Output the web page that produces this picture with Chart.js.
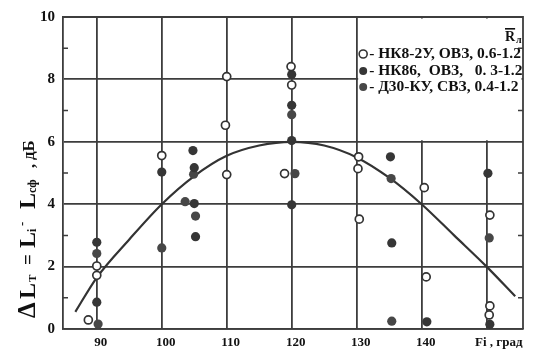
<!DOCTYPE html>
<html><head><meta charset="utf-8">
<script src="https://cdn.jsdelivr.net/npm/chart.js@4"></script>
<style>html,body{margin:0;padding:0;background:#fff}</style>
</head><body>
<div style="width:549px;height:364px"><canvas id="c" width="549" height="364"></canvas></div>
<script>
// ---- data ----
const xTicks = [90, 100, 110, 120, 130, 140, 150];
const xTickLabels = ['90', '100', '110', '120', '130', '140', '     Fi , град'];
const yTicks = [0, 2, 4, 6, 8, 10];
const yMinorTicks = [1, 3, 5, 7, 9];
const seriesNames = ['НК8-2У, ОВЗ, 0.6-1.2', 'НК86,  ОВЗ,   0. 3-1.2', 'Д30-КУ, СВЗ, 0.4-1.2'];
const legendHeader = 'R';
const legendHeaderSub = 'л';

// НК8-2У (hollow)
const nk82uX = [88.7, 90, 90, 100, 110, 109.8, 110, 119.9, 120, 118.9, 130.3, 130.2, 130.4, 140.4, 140.7, 150.5, 150.5, 150.4];
const nk82uY = [0.29, 2.02, 1.72, 5.56, 8.09, 6.53, 4.95, 8.41, 7.82, 4.98, 5.52, 5.14, 3.52, 4.53, 1.67, 3.65, 0.74, 0.45];
// НК86 (filled)
const nk86X = [90, 90, 100, 104.8, 105, 105, 105.2, 120, 120, 120, 120, 135.2, 135.4, 140.8, 150.2, 150.5];
const nk86Y = [2.78, 0.86, 5.03, 5.72, 5.17, 4.02, 2.96, 8.16, 7.17, 6.04, 3.98, 5.52, 2.76, 0.23, 4.99, 0.15];
// Д30-КУ (filled)
const d30X = [90, 90.2, 100, 104.9, 103.6, 105.2, 120, 120.5, 135.3, 135.4, 150.4];
const d30Y = [2.42, 0.16, 2.6, 4.96, 4.08, 3.62, 6.87, 4.98, 4.82, 0.25, 2.92];
// fitted curve
const curveX = [86.7, 90, 95, 100, 105, 110, 115, 120, 125, 130, 135, 140, 145, 150, 154.4];
const curveY = [0.55, 1.65, 2.87, 4.0, 4.9, 5.55, 5.88, 6.0, 5.88, 5.5, 4.85, 4.0, 3.0, 2.0, 1.05];

const pts = (xs, ys) => xs.map((v, i) => ({x: v, y: ys[i]}));
const GRID = '#3d3d3d';
const FONT = '"Liberation Serif", "DejaVu Serif", serif';
const hollowStyle = {bg: '#ffffff', border: '#333333'};
const fill1 = '#363636', fill2 = '#474747';

const decor = {
  id: 'decor',
  beforeDatasetsDraw(chart) {
    const {ctx, chartArea: a, scales: {x, y}} = chart;
    ctx.save();
    const bx = x.getPixelForValue(130) + 1.5, by = a.top + 1.5;
    const bw = a.right - 1.5 - bx, bh = y.getPixelForValue(6) - 1.5 - by;
    ctx.fillStyle = '#fff';
    ctx.fillRect(bx, by, bw, bh);
    ctx.strokeStyle = GRID; ctx.lineWidth = 1.8;
    ctx.beginPath();
    ctx.moveTo(a.left, a.top); ctx.lineTo(a.right, a.top); ctx.lineTo(a.right, a.bottom);
    ctx.stroke();
    ctx.lineWidth = 1.5;
    ctx.beginPath();
    yMinorTicks.forEach(v => {
      const py = y.getPixelForValue(v);
      ctx.moveTo(a.left, py); ctx.lineTo(a.left + 5, py);
      ctx.moveTo(a.right, py); ctx.lineTo(a.right - 5, py);
    });
    ctx.stroke();
    ctx.restore();
  },
  afterDraw(chart) {
    const {ctx, chartArea: a, scales: {x, y}} = chart;
    ctx.save();
    ctx.fillStyle = '#111';
    // legend
    const mx = x.getPixelForValue(131);
    const rowY = [54, 71, 87];
    const tx = mx + 6;
    ctx.font = `bold 13px ${FONT}`;
    const w0 = ctx.measureText('- ' + seriesNames[0]).width;
    const fs = 13 * (a.right - 2 - tx) / w0;
    ctx.textBaseline = 'middle';
    seriesNames.forEach((n, i) => {
      ctx.beginPath();
      ctx.arc(mx, rowY[i], 4, 0, Math.PI * 2);
      if (i === 0) { ctx.fillStyle = '#fff'; ctx.fill(); ctx.lineWidth = 1.6; ctx.strokeStyle = '#333'; ctx.stroke(); }
      else { ctx.fillStyle = i === 1 ? fill1 : fill2; ctx.fill(); }
      ctx.fillStyle = '#111';
      ctx.font = `bold ${fs}px ${FONT}`;
      ctx.fillText('- ' + n, tx, rowY[i]);
    });
    // header R̄л
    ctx.textBaseline = 'alphabetic';
    ctx.font = `bold 14px ${FONT}`;
    const hx = 505, hy = 41;
    const rw = ctx.measureText(legendHeader).width;
    ctx.fillText(legendHeader, hx, hy);
    ctx.fillRect(hx, hy - 13, rw, 1.6);
    ctx.font = `bold 10px ${FONT}`;
    ctx.fillText(legendHeaderSub, hx + rw + 1, hy + 2);

    // y-axis title (rotated, with subscripts)
    ctx.translate(35, 318);
    ctx.rotate(-Math.PI / 2);
    const pieces = [
      {t: 'Δ', s: 25, at: 0, dy: 0},
      {t: 'L', s: 24, at: 19, dy: 0},
      {t: 'T', s: 11, at: 36, dy: 1},
      {t: '=', s: 19, at: 53, dy: -1},
      {t: 'L', s: 24, at: 70, dy: 0},
      {t: 'i', s: 12, at: 86, dy: 1},
      {t: '-', s: 13, at: 92, dy: -9},
      {t: 'L', s: 24, at: 109, dy: 0},
      {t: 'сф', s: 12, at: 125, dy: 1},
      {t: ',', s: 16, at: 150, dy: 0},
      {t: 'дБ', s: 17, at: 158, dy: -1}
    ];
    pieces.forEach(p => {
      ctx.font = `bold ${p.s}px ${FONT}`;
      ctx.fillText(p.t, p.at, p.dy);
    });
    ctx.restore();
  }
};

new Chart(document.getElementById('c'), {
  type: 'scatter',
  data: {
    datasets: [
      {label: seriesNames[0], data: pts(nk82uX, nk82uY), pointRadius: 4, pointBorderWidth: 1.7,
       pointBackgroundColor: hollowStyle.bg, pointBorderColor: hollowStyle.border},
      {label: seriesNames[1], data: pts(nk86X, nk86Y), pointRadius: 4.6, pointBorderWidth: 0,
       pointBackgroundColor: fill1, pointBorderColor: fill1},
      {label: seriesNames[2], data: pts(d30X, d30Y), pointRadius: 4.6, pointBorderWidth: 0,
       pointBackgroundColor: fill2, pointBorderColor: fill2},
      {label: 'curve', data: pts(curveX, curveY), showLine: true, pointRadius: 0,
       borderColor: '#333', borderWidth: 2.2, cubicInterpolationMode: 'monotone', fill: false}
    ]
  },
  options: {
    responsive: false,
    animation: false,
    devicePixelRatio: 1,
    layout: {padding: {top: 14, right: 26, left: 0, bottom: 0}},
    plugins: {legend: {display: false}, tooltip: {enabled: false}},
    scales: {
      x: {
        type: 'linear', min: 84.8, max: 155.6,
        afterBuildTicks: s => { s.ticks = xTicks.map(v => ({value: v})); },
        afterFit: s => { s.height = 35; },
        ticks: {
          autoSkip: false, maxRotation: 0, padding: 6, labelOffset: 4,
          color: '#111', font: {family: FONT, size: 13, weight: 'bold'},
          callback: (v) => { const i = xTicks.indexOf(v); return i >= 0 ? xTickLabels[i] : ''; }
        },
        grid: {color: GRID, lineWidth: 1.8, drawTicks: false},
        border: {display: true, color: GRID, width: 1.8}
      },
      y: {
        type: 'linear', min: 0, max: 10,
        afterBuildTicks: s => { s.ticks = yTicks.map(v => ({value: v})); },
        afterFit: s => { s.width = 63; },
        ticks: {
          padding: 8, color: '#111', font: {family: FONT, size: 15, weight: 'bold'},
          callback: v => String(v)
        },
        grid: {color: GRID, lineWidth: 1.8, drawTicks: false},
        border: {display: true, color: GRID, width: 1.8}
      }
    }
  },
  plugins: [decor]
});
</script>
</body></html>
